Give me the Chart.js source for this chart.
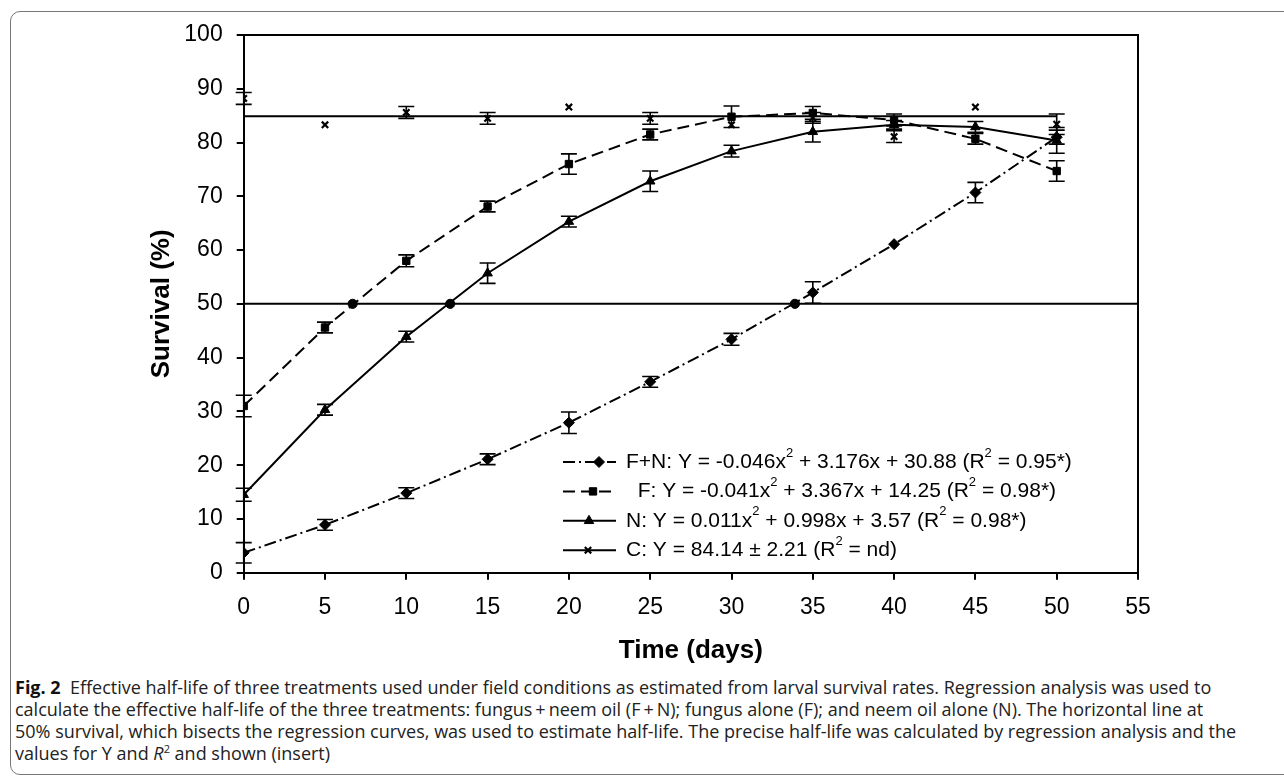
<!DOCTYPE html>
<html>
<head>
<meta charset="utf-8">
<script src="https://cdn.jsdelivr.net/npm/chart.js@4"></script>
<style>
  html, body { margin: 0; padding: 0; background: #fff; overflow: hidden; }
  body { width: 1284px; height: 780px; position: relative; }
  .frame {
    position: absolute; left: 10px; top: 11px; width: 1320px; height: 764px;
    border: 1.5px solid #777; border-radius: 10px; box-sizing: border-box;
  }
  #wrap { position: absolute; left: 0; top: 0; width: 1284px; height: 670px; }
  .caption {
    position: absolute; left: 15px; top: 676px;
    font-family: 'Open Sans', 'Noto Sans', sans-serif; font-size: 18px; line-height: 22px;
    color: #222; white-space: nowrap;
  }
  .caption b { font-weight: 700; color: #111; }
  .caption sup { font-size: 11px; line-height: 0; }
</style>
</head>
<body>
<div class="frame"></div>
<div id="wrap"><canvas id="chart" width="1284" height="670"></canvas></div>
<div class="caption">
  <b>Fig. 2</b>&nbsp; Effective half-life of three treatments used under field conditions as estimated from larval survival rates. Regression analysis was used to<br>
  calculate the effective half-life of the three treatments: fungus&#8201;+&#8201;neem oil (F&#8201;+&#8201;N); fungus alone (F); and neem oil alone (N). The horizontal line at<br>
  50% survival, which bisects the regression curves, was used to estimate half-life. The precise half-life was calculated by regression analysis and the<br>
  values for Y and <i>R</i><sup>2</sup> and shown (insert)
</div>
<script>
  // sampling days
  const days = [0, 5, 10, 15, 20, 25, 30, 35, 40, 45, 50];

  // survival (%), with +/- error (null = no bar drawn)
  const fnSurvival = [3.7, 8.9, 14.8, 21.1, 27.9, 35.5, 43.4, 52.1, 61.1, 70.7, 81.0];
  const fnError    = [1.9, 1.0, 1.0, 1.0, 2.0, 1.0, 1.1, 2.0, null, 1.9, 1.3];
  const fSurvival  = [31.0, 45.6, 58.0, 68.1, 76.0, 81.5, 84.8, 85.5, 84.2, 80.7, 74.7];
  const fError     = [2.0, 1.0, 1.1, 1.0, 1.9, 1.0, 2.0, 1.2, 1.1, 1.0, 1.9];
  const nSurvival  = [14.5, 30.3, 43.9, 55.7, 65.3, 72.8, 78.4, 82.0, 83.3, 82.9, 80.4];
  const nError     = [1.2, 1.0, 1.0, 1.9, 1.0, 1.9, 1.1, 1.9, 0.8, 1.0, 2.4];
  const cSurvival  = [88.2, 83.3, 85.6, 84.5, 86.6, 84.5, 83.3, 84.6, 81.1, 86.6, 83.4];
  const cError     = [1.1, null, 1.1, 1.1, null, 1.1, null, 1.0, 1.1, null, 1.9];

  // control mean line and the 50% half-life line
  const cMean = 84.9;
  const cMeanSpan = [0, 50];
  const halfLife = 50;
  const halfLifeSpan = [0, 55];
  const halfLifeDays = [6.7, 12.7, 33.9];   // where each curve crosses 50%

  const xTicks = { min: 0, max: 55, step: 5 };
  const yTicks = { min: 0, max: 100, step: 10 };

  const legendLabels = [
    'F+N: Y = -0.046x^2 + 3.176x + 30.88 (R^2 = 0.95*)',
    '  F: Y = -0.041x^2 + 3.367x + 14.25 (R^2 = 0.98*)',
    'N: Y = 0.011x^2 + 0.998x + 3.57 (R^2 = 0.98*)',
    'C: Y = 84.14 ± 2.21 (R^2 = nd)',
  ];

  const FONT = "'Liberation Sans', Arial, sans-serif";
  const DASH_DOT = [12, 4, 2, 4];
  const DASHED = [12, 6];

  function pts(ys) {
    return days.map((d, i) => ({ x: d, y: ys[i] }));
  }

  const series = [
    { label: 'F+N', data: pts(fnSurvival), errorBars: fnError, pointStyle: 'rectRot', pointRadius: 5.5, borderDash: DASH_DOT },
    { label: 'F', data: pts(fSurvival), errorBars: fError, pointStyle: 'rect', pointRadius: 5.2, borderDash: DASHED },
    { label: 'N', data: pts(nSurvival), errorBars: nError, pointStyle: 'triangle', pointRadius: 5.5, borderDash: [] },
  ].map(s => Object.assign({
    borderColor: '#000', backgroundColor: '#000', borderWidth: 2,
    pointBorderWidth: 1, pointBackgroundColor: '#000', pointBorderColor: '#000',
    tension: 0, showLine: true,
  }, s));

  const datasets = series.concat([
    {
      label: 'C', data: pts(cSurvival), errorBars: cError, showLine: false,
      pointStyle: 'crossRot', pointRadius: 4.5, pointBorderWidth: 2.2,
      pointBorderColor: '#000', pointBackgroundColor: '#000',
    },
    {
      label: 'C mean', data: cMeanSpan.map(x => ({ x: x, y: cMean })),
      borderColor: '#000', borderWidth: 2, pointRadius: 0, showLine: true,
    },
    {
      label: 'half-life', data: halfLifeSpan.map(x => ({ x: x, y: halfLife })),
      borderColor: '#000', borderWidth: 2, pointRadius: 0, showLine: true,
    },
    {
      label: 'crossings', data: halfLifeDays.map(x => ({ x: x, y: halfLife })),
      showLine: false, pointStyle: 'circle', pointRadius: 4.6,
      pointBackgroundColor: '#000', pointBorderColor: '#000',
    },
  ]);

  // plot frame (top + right edges) like the Excel chart box
  const frameBox = {
    id: 'frameBox',
    afterDraw(chart) {
      const a = chart.chartArea, ctx = chart.ctx;
      ctx.save();
      ctx.strokeStyle = '#000';
      ctx.lineWidth = 2;
      ctx.beginPath();
      ctx.moveTo(a.left, a.top);
      ctx.lineTo(a.right, a.top);
      ctx.lineTo(a.right, a.bottom);
      ctx.stroke();
      ctx.restore();
    }
  };

  const errorBars = {
    id: 'errorBars',
    afterDatasetsDraw(chart) {
      const ctx = chart.ctx, xs = chart.scales.x, ys = chart.scales.y;
      ctx.save();
      ctx.strokeStyle = '#000';
      ctx.lineWidth = 1.6;
      chart.data.datasets.forEach(ds => {
        if (!ds.errorBars) return;
        ds.data.forEach((p, i) => {
          const e = ds.errorBars[i];
          if (e == null) return;
          const x = xs.getPixelForValue(p.x);
          const y1 = ys.getPixelForValue(p.y + e);
          const y2 = ys.getPixelForValue(p.y - e);
          ctx.beginPath();
          ctx.moveTo(x, y1); ctx.lineTo(x, y2);
          ctx.moveTo(x - 8, y1); ctx.lineTo(x + 8, y1);
          ctx.moveTo(x - 8, y2); ctx.lineTo(x + 8, y2);
          ctx.stroke();
        });
      });
      ctx.restore();
    }
  };

  function drawSupText(ctx, text, x, y) {
    const parts = text.split('^2');
    let cx = x;
    parts.forEach((part, i) => {
      ctx.font = '21px ' + FONT;
      ctx.fillText(part, cx, y);
      cx += ctx.measureText(part).width;
      if (i < parts.length - 1) {
        ctx.font = '13px ' + FONT;
        ctx.fillText('2', cx, y - 9);
        cx += ctx.measureText('2').width;
      }
    });
  }

  // equation "insert" inside the plot
  const insertLegend = {
    id: 'insertLegend',
    afterDraw(chart) {
      const ctx = chart.ctx;
      const styles = [
        { dash: DASH_DOT, point: 'rectRot', r: 5.5, mx: 599 },
        { dash: DASHED, point: 'rect', r: 5.2, mx: 593 },
        { dash: [], point: 'triangle', r: 5.5, mx: 589 },
        { dash: [], point: 'crossRot', r: 4.5, mx: 588 },
      ];
      ctx.save();
      ctx.fillStyle = '#000';
      ctx.strokeStyle = '#000';
      ctx.textBaseline = 'middle';
      legendLabels.forEach((label, i) => {
        const st = styles[i];
        const y = 462 + i * 29.4;
        ctx.lineWidth = 2;
        ctx.setLineDash(st.dash);
        ctx.beginPath();
        ctx.moveTo(563, y); ctx.lineTo(616, y);
        ctx.stroke();
        ctx.setLineDash([]);
        ctx.lineWidth = st.point === 'crossRot' ? 2.2 : 1;
        Chart.helpers.drawPoint(ctx, { pointStyle: st.point, radius: st.r, rotation: 0, borderWidth: ctx.lineWidth }, st.mx, y);
        drawSupText(ctx, label, 626, y);
      });
      ctx.restore();
    }
  };

  const tickFont = { family: FONT, size: 23 };
  const titleFont = { family: FONT, size: 26, weight: 'bold' };

  new Chart(document.getElementById('chart'), {
    type: 'scatter',
    data: { datasets: datasets },
    plugins: [frameBox, errorBars, insertLegend],
    options: {
      responsive: false,
      animation: false,
      devicePixelRatio: 1,
      layout: { padding: { left: 130, right: 146, top: 35, bottom: 0 } },
      plugins: { legend: { display: false }, tooltip: { enabled: false } },
      scales: {
        x: {
          type: 'linear', min: xTicks.min, max: xTicks.max,
          ticks: { stepSize: xTicks.step, font: tickFont, color: '#000', padding: 14, maxRotation: 0 },
          grid: { drawOnChartArea: false, drawTicks: true, tickLength: 7, color: '#000', lineWidth: 2 },
          border: { display: true, color: '#000', width: 2 },
          title: { display: true, text: 'Time (days)', font: titleFont, color: '#000', padding: { top: 0, bottom: 4 } },
          afterFit: s => { s.height = 97.3; },
        },
        y: {
          type: 'linear', min: yTicks.min, max: yTicks.max,
          ticks: { stepSize: yTicks.step, font: tickFont, color: '#000', padding: 14 },
          grid: { drawOnChartArea: false, drawTicks: true, tickLength: 7, color: '#000', lineWidth: 2 },
          border: { display: true, color: '#000', width: 2 },
          title: { display: true, text: 'Survival (%)', font: titleFont, color: '#000', padding: { top: 16, bottom: 0 } },
          afterFit: s => { s.width = 113.7; },
        },
      },
    },
  });
</script>
</body>
</html>
